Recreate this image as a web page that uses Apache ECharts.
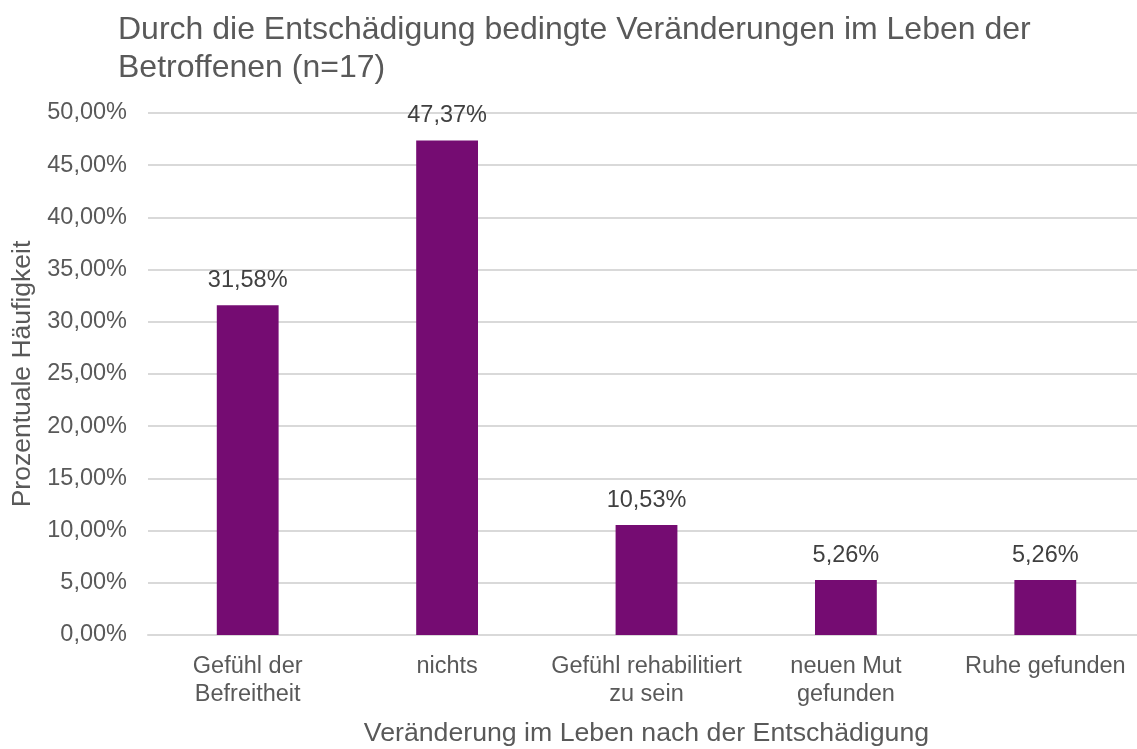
<!DOCTYPE html>
<html>
<head>
<meta charset="utf-8">
<script src="https://cdn.jsdelivr.net/npm/echarts@6/dist/echarts.min.js"></script>
<style>
  html, body { margin: 0; padding: 0; background: #fff; }
  #chart { width: 1137px; height: 749px; }
</style>
</head>
<body>
<div id="chart"></div>
<script>
// Kategorien und prozentuale Häufigkeiten
const categories = [
  'Gefühl der\nBefreitheit',
  'nichts',
  'Gefühl rehabilitiert\nzu sein',
  'neuen Mut\ngefunden',
  'Ruhe gefunden'
];
const values = [31.58, 47.37, 10.53, 5.26, 5.26];
const yTicks = { min: 0, max: 50, interval: 5 };

const fmtPct = (v, digits) => v.toFixed(digits).replace('.', ',') + '%';
const font = '"Liberation Sans", Arial, sans-serif';

const chart = echarts.init(document.getElementById('chart'), null, { renderer: 'canvas' });
chart.setOption({
  backgroundColor: '#ffffff',
  animation: false,
  title: {
    text: 'Durch die Entschädigung bedingte Veränderungen im Leben der\nBetroffenen (n=17)',
    left: 113,
    top: 6,
    textStyle: {
      fontFamily: font,
      fontSize: 32,
      fontWeight: 'normal',
      color: '#595959',
      lineHeight: 38
    }
  },
  // plot spans slightly past the right edge of the canvas
  grid: { left: 148, width: 997, top: 113, height: 522, outerBoundsMode: 'none', containLabel: false },
  xAxis: {
    type: 'category',
    data: categories,
    name: 'Veränderung im Leben nach der Entschädigung',
    nameLocation: 'middle',
    nameGap: 85,
    nameTextStyle: { fontFamily: font, fontSize: 26.7, color: '#595959' },
    axisLine: { lineStyle: { color: '#d9d9d9', width: 2 } },
    axisTick: { show: false },
    axisLabel: {
      fontFamily: font, fontSize: 23.5, color: '#595959',
      margin: 18, lineHeight: 28, interval: 0
    }
  },
  yAxis: {
    type: 'value',
    min: yTicks.min,
    max: yTicks.max,
    interval: yTicks.interval,
    name: 'Prozentuale Häufigkeit',
    nameLocation: 'middle',
    nameGap: 112,
    nameTextStyle: { fontFamily: font, fontSize: 26.5, color: '#595959' },
    axisLine: { show: false },
    axisTick: { show: false },
    splitLine: { lineStyle: { color: '#d9d9d9', width: 2 } },
    axisLabel: {
      fontFamily: font, fontSize: 23.5, color: '#595959', margin: 21,
      formatter: v => fmtPct(v, 2)
    }
  },
  series: [{
    type: 'bar',
    data: values,
    barWidth: '31%',
    itemStyle: { color: '#750c72' },
    label: {
      show: true,
      position: 'top',
      distance: 13,
      fontFamily: font,
      fontSize: 23.5,
      color: '#404040',
      formatter: p => fmtPct(p.value, 2)
    }
  }]
});
</script>
</body>
</html>
